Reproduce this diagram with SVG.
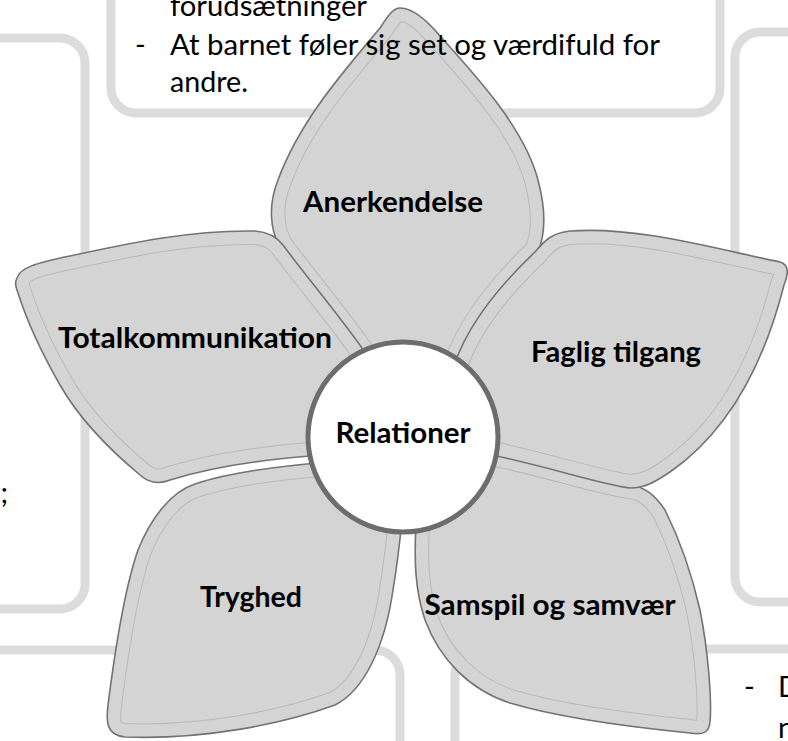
<svg xmlns="http://www.w3.org/2000/svg" width="788" height="741" viewBox="0 0 788 741">
<style>
.box{fill:none;stroke:#dcdcdc;stroke-width:9}
.pf{fill:#d4d4d4}
.il{fill:none;stroke:#b9b9b9;stroke-width:28}
.ib{fill:none;stroke:#d4d4d4;stroke-width:26}
.pe{fill:none;stroke:#737373;stroke-width:1.6}
.lbl{font-family:Lato,"Open Sans",sans-serif;font-weight:bold;font-size:28.5px;fill:#000;text-anchor:middle}
.body{font-family:Lato,"Open Sans",sans-serif;font-size:29px;fill:#000}
</style>
<defs>
<path id="pA" d="M 400 8 C 412 8 425 18 440 36 C 480 80 525 130 538 180 C 546 210 545 235 538 252 C 498 290 463 335 453 380 L 410 425 L 359 350 C 332 312 302 277 280 247 C 270 230 268 205 278 180 C 300 120 345 70 380 28 C 388 16 393 8 400 8 Z"/>
<path id="pB" d="M 450 380 C 460 335 495 290 535 252 C 545 240 552 233 570 231 C 640 226 720 250 780 262 C 790 265 788 275 784 285 C 765 360 730 430 670 472 C 655 482 645 488 630 488 C 600 484 560 470 497 456 L 450 440 Z"/>
<path id="pC" d="M 430 470 L 497 453 C 560 467 600 481 630 485 C 645 487 655 495 665 510 C 680 540 692 575 700 610 C 708 650 712 700 710 722 C 709 733 703 735 690 733 C 630 727 560 718 510 703 C 470 690 440 660 425 620 C 415 590 414 560 416 525 Z"/>
<path id="pD" d="M 330 462 C 280 466 230 472 195 484 C 170 492 150 520 138 550 C 124 590 115 650 108 705 C 106 722 106 735 125 737 C 200 740 280 725 335 705 C 365 690 385 645 393 590 C 398 560 400 540 402 520 L 380 480 Z"/>
<path id="pE" d="M 17 278 C 20 268 35 263 70 256 C 130 243 190 230 255 231 C 268 232 276 236 283 245 C 305 275 335 310 362 348 L 385 430 L 310 456 C 260 460 215 466 170 480 C 160 484 150 484 140 475 C 110 450 80 420 60 385 C 40 350 25 315 18 293 C 15 285 15 282 17 278 Z"/>
<clipPath id="cA"><use href="#pA"/></clipPath>
<clipPath id="cB"><use href="#pB"/></clipPath>
<clipPath id="cC"><use href="#pC"/></clipPath>
<clipPath id="cD"><use href="#pD"/></clipPath>
<clipPath id="cE"><use href="#pE"/></clipPath>
</defs>
<rect width="788" height="741" fill="#fff"/>
<g id="background-boxes">
<rect class="box" x="111" y="-40" width="609" height="153" rx="25"/>
<rect class="box" x="-40" y="38" width="125" height="571" rx="25"/>
<rect class="box" x="735" y="32" width="120" height="570" rx="25"/>
<rect class="box" x="-40" y="650" width="440" height="150" rx="25"/>
<rect class="box" x="455" y="649" width="400" height="150" rx="25"/>
</g>
<g id="petal-anerkendelse">
<use href="#pA" class="pf"/>
<g clip-path="url(#cA)"><use href="#pA" class="il"/><use href="#pA" class="ib"/></g>
<use href="#pA" class="pe"/>
<text class="lbl" x="393" y="212" textLength="180" lengthAdjust="spacingAndGlyphs">Anerkendelse</text>
</g>
<g id="petal-samspil">
<use href="#pC" class="pf"/>
<g clip-path="url(#cC)"><use href="#pC" class="il"/><use href="#pC" class="ib"/></g>
<use href="#pC" class="pe"/>
<text class="lbl" x="550" y="615" textLength="251" lengthAdjust="spacingAndGlyphs">Samspil og samvær</text>
</g>
<g id="petal-tryghed">
<use href="#pD" class="pf"/>
<g clip-path="url(#cD)"><use href="#pD" class="il"/><use href="#pD" class="ib"/></g>
<use href="#pD" class="pe"/>
<text class="lbl" x="251" y="607" textLength="102" lengthAdjust="spacingAndGlyphs">Tryghed</text>
</g>
<g id="petal-faglig">
<use href="#pB" class="pf"/>
<g clip-path="url(#cB)"><use href="#pB" class="il"/><use href="#pB" class="ib"/></g>
<use href="#pB" class="pe"/>
<text class="lbl" x="616" y="362" textLength="170" lengthAdjust="spacingAndGlyphs">Faglig tilgang</text>
</g>
<g id="petal-total">
<use href="#pE" class="pf"/>
<g clip-path="url(#cE)"><use href="#pE" class="il"/><use href="#pE" class="ib"/></g>
<use href="#pE" class="pe"/>
<text class="lbl" x="195" y="348" textLength="274" lengthAdjust="spacingAndGlyphs">Totalkommunikation</text>
</g>
<g id="center-relationer">
<circle cx="403" cy="437" r="95" fill="#fff" stroke="#6d6d6d" stroke-width="5"/>
<text class="lbl" x="403" y="443" textLength="135" lengthAdjust="spacingAndGlyphs">Relationer</text>
</g>
<g id="background-text" class="body">
<text x="170" y="16" textLength="197" lengthAdjust="spacingAndGlyphs">forudsætninger</text>
<text x="135" y="55">-</text>
<text x="170" y="55" textLength="490" lengthAdjust="spacingAndGlyphs">At barnet føler sig set og værdifuld for</text>
<text x="170" y="92" textLength="78" lengthAdjust="spacingAndGlyphs">andre.</text>
<text x="8" y="503" text-anchor="end">;</text>
<text x="744" y="697">-</text>
<text x="778" y="697">D</text>
<text x="778" y="738">n</text>
</g>
</svg>
